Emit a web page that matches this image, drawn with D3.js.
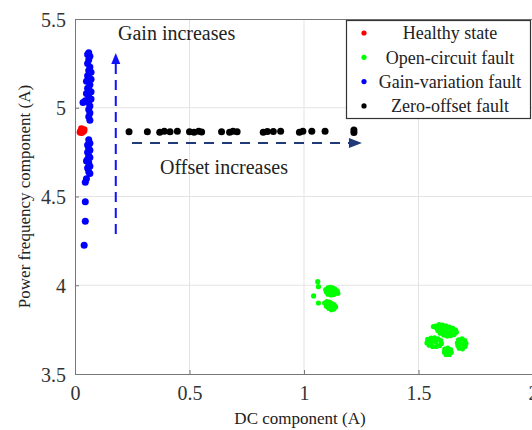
<!DOCTYPE html>
<html>
<head>
<meta charset="utf-8">
<script src="https://cdn.jsdelivr.net/npm/d3@7"></script>
<style>
  body { margin: 0; background: #fff; }
  text { font-family: "Liberation Serif", "Times New Roman", serif; fill: #222; }
</style>
</head>
<body>
<svg id="chart" width="532" height="430"></svg>
<script>
// values
const xTicks = [0, 0.5, 1, 1.5, 2]
const yTicks = [3.5, 4, 4.5, 5, 5.5]

const healthy = [[0.025,4.87],[0.032,4.878],[0.038,4.868],[0.022,4.862],[0.04,4.876],[0.03,4.86],[0.028,4.882]]

const gainVar = [
  [0.06,5.31],[0.055,5.30],[0.065,5.29],[0.06,5.27],[0.055,5.25],[0.065,5.23],[0.06,5.21],[0.07,5.2],
  [0.055,5.18],[0.06,5.17],[0.07,5.16],[0.05,5.15],[0.065,5.13],[0.055,5.11],[0.06,5.1],[0.07,5.09],
  [0.05,5.08],[0.06,5.06],[0.07,5.05],[0.045,5.04],[0.035,5.03],[0.06,5.03],[0.065,5.01],[0.06,4.99],
  [0.065,4.97],[0.06,4.95],[0.065,4.93],
  [0.06,4.82],[0.065,4.8],[0.055,4.79],[0.06,4.77],[0.065,4.76],[0.055,4.75],[0.06,4.73],[0.065,4.72],
  [0.055,4.71],[0.05,4.7],[0.06,4.69],[0.065,4.67],[0.055,4.66],[0.06,4.64],[0.065,4.63],[0.05,4.6],
  [0.045,4.58],[0.045,4.47],[0.045,4.36],[0.04,4.225]
]

const zeroOffset = [
  [0.236,4.865],[0.316,4.865],[0.37,4.862],[0.39,4.868],[0.415,4.865],[0.447,4.868],[0.5,4.865],
  [0.52,4.862],[0.54,4.868],[0.553,4.864],[0.64,4.865],[0.675,4.862],[0.69,4.868],[0.708,4.865],
  [0.822,4.862],[0.84,4.866],[0.866,4.866],[0.898,4.868],[0.98,4.862],[0.995,4.867],[1.034,4.868],
  [1.092,4.868],[1.218,4.86],[1.218,4.875]
]

const openCircuit = [
  // cluster near (1.12, 3.96)
  [1.095,3.975],[1.105,3.985],[1.115,3.988],[1.125,3.985],[1.135,3.978],[1.145,3.968],[1.14,3.955],
  [1.13,3.948],[1.118,3.945],[1.105,3.95],[1.098,3.962],[1.11,3.968],[1.122,3.965],[1.132,3.962],[1.148,3.955],
  // cluster near (1.115, 3.88)
  [1.09,3.9],[1.1,3.908],[1.112,3.905],[1.122,3.897],[1.132,3.89],[1.138,3.878],[1.13,3.866],[1.12,3.862],
  [1.108,3.87],[1.098,3.882],[1.105,3.892],[1.118,3.883],[1.128,3.876],
  // stray points
  [1.06,4.02],[1.063,3.992],[1.042,3.94],[1.063,3.9],[1.565,3.767],
  // cluster near (1.62, 3.745)
  [1.575,3.77],[1.59,3.778],[1.605,3.776],[1.62,3.77],[1.635,3.764],[1.65,3.757],[1.662,3.748],[1.665,3.735],
  [1.655,3.722],[1.64,3.716],[1.625,3.714],[1.61,3.72],[1.595,3.73],[1.585,3.745],[1.58,3.758],[1.6,3.755],
  [1.62,3.748],[1.64,3.74],[1.61,3.738],[1.63,3.728],
  // cluster near (1.57, 3.68)
  [1.54,3.695],[1.555,3.702],[1.57,3.703],[1.585,3.698],[1.597,3.688],[1.6,3.672],[1.592,3.66],[1.578,3.655],
  [1.562,3.655],[1.547,3.662],[1.537,3.675],[1.555,3.68],[1.575,3.68],
  // cluster near (1.63, 3.63)
  [1.615,3.64],[1.628,3.646],[1.64,3.638],[1.643,3.622],[1.635,3.61],[1.62,3.61],[1.613,3.623],[1.628,3.627],
  // cluster near (1.69, 3.67)
  [1.675,3.692],[1.69,3.698],[1.702,3.688],[1.707,3.672],[1.703,3.655],[1.692,3.642],[1.678,3.645],
  [1.672,3.66],[1.67,3.676],[1.688,3.67]
]

const legendItems = ["Healthy state", "Open-circuit fault", "Gain-variation fault", "Zero-offset fault"]
const legendColors = ["#ff0000", "#00ff00", "#0000ff", "#000000"]

const svg = d3.select("#chart")
const mLeft = 75, mRight = 533, mTop = 19, mBottom = 374
const serif = "'Liberation Serif', 'Times New Roman', serif"

const x = d3.scaleLinear().domain([0, 2]).range([mLeft, mRight])
const y = d3.scaleLinear().domain([3.5, 5.5]).range([mBottom, mTop])

// grid
svg.append("g").selectAll("line").data(xTicks.slice(1, -1)).enter().append("line")
  .attr("x1", d => x(d)).attr("x2", d => x(d)).attr("y1", mTop).attr("y2", mBottom)
  .attr("stroke", "#e3e3e3").attr("stroke-width", 1)
svg.append("g").selectAll("line").data(yTicks.slice(1, -1)).enter().append("line")
  .attr("x1", mLeft).attr("x2", mRight).attr("y1", d => y(d)).attr("y2", d => y(d))
  .attr("stroke", "#e3e3e3").attr("stroke-width", 1)

// axes
const xAxis = svg.append("g").attr("transform", `translate(0,${mBottom})`)
  .call(d3.axisBottom(x).tickValues(xTicks).tickFormat(d3.format("")).tickSizeInner(-4).tickSizeOuter(0).tickPadding(12))
const yAxis = svg.append("g").attr("transform", `translate(${mLeft},0)`)
  .call(d3.axisLeft(y).tickValues(yTicks).tickFormat(d3.format("")).tickSizeInner(-4).tickSizeOuter(0).tickPadding(9))
;[xAxis, yAxis].forEach(g => {
  g.attr("font-family", null)
  g.select(".domain").attr("stroke", "#777")
  g.selectAll(".tick line").attr("stroke", "#777")
  g.selectAll("text").attr("font-size", 20).style("fill", "#333").style("font-family", serif)
})
yAxis.selectAll("text").attr("dy", "0.35em")

// top border
svg.append("line").attr("x1", mLeft).attr("x2", mRight).attr("y1", mTop + 0.5).attr("y2", mTop + 0.5)
  .attr("stroke", "#777")

// axis titles
svg.append("text").attr("x", x(1) - 4).attr("y", 424).attr("text-anchor", "middle")
  .attr("font-size", 17).text("DC component (A)")
svg.append("text").attr("transform", `translate(30,${(mTop + mBottom) / 2}) rotate(-90)`)
  .attr("text-anchor", "middle").attr("font-size", 17).text("Power frequency component (A)")

// points
function dots(data, color, r) {
  svg.append("g").selectAll("circle").data(data).enter().append("circle")
    .attr("cx", d => x(d[0])).attr("cy", d => y(d[1])).attr("r", r).attr("fill", color)
}
dots(openCircuit, "#00ff00", 2.6)
dots(zeroOffset, "#000000", 3.5)
dots(gainVar, "#0000ff", 3.5)
dots(healthy, "#ff0000", 3.4)

// annotations
const vx = x(0.178), vy0 = y(4.289), vy1 = y(5.308)
svg.append("line").attr("x1", vx).attr("x2", vx).attr("y1", vy0).attr("y2", vy1 + 8)
  .attr("stroke", "#1010ff").attr("stroke-width", 2).attr("stroke-dasharray", "10,6")
svg.append("path").attr("d", `M${vx},${vy1} L${vx - 4.5},${vy1 + 11} L${vx + 4.5},${vy1 + 11} Z`)
  .attr("fill", "#1010ff")

const hy = y(4.801), hx0 = x(0.249), hx1 = x(1.253)
svg.append("line").attr("x1", hx0).attr("x2", hx1 - 8).attr("y1", hy).attr("y2", hy)
  .attr("stroke", "#203a78").attr("stroke-width", 2).attr("stroke-dasharray", "10,8")
svg.append("path").attr("d", `M${hx1},${hy} L${hx1 - 13},${hy - 5} L${hx1 - 13},${hy + 5} Z`)
  .attr("fill", "#203a78")

svg.append("text").attr("x", 118).attr("y", 40).attr("font-size", 20).attr("fill", "#111").text("Gain increases")
svg.append("text").attr("x", 160).attr("y", 174).attr("font-size", 20).attr("fill", "#111").text("Offset increases")

// legend
const lg = svg.append("g")
lg.append("rect").attr("x", 346.5).attr("y", 20.5).attr("width", 184).attr("height", 98)
  .attr("fill", "#fff").attr("stroke", "#333").attr("stroke-width", 1.2)
lg.selectAll("circle").data(legendColors).enter().append("circle")
  .attr("cx", 364).attr("cy", (d, i) => 33 + i * 24.3).attr("r", 2.6).attr("fill", d => d)
lg.selectAll("text").data(legendItems).enter().append("text")
  .attr("x", 450).attr("y", (d, i) => 33 + i * 24.3).attr("dy", "0.35em")
  .attr("text-anchor", "middle").attr("font-size", 18).attr("fill", "#111").text(d => d)
</script>
</body>
</html>
